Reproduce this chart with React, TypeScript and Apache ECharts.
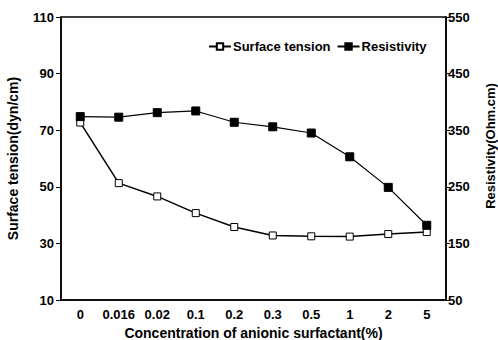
import React, { useEffect, useRef } from "react";
import * as echarts from "echarts";

const categories = ["0", "0.016", "0.02", "0.1", "0.2", "0.3", "0.5", "1", "2", "5"];
const surfaceTension = [72.7, 51.3, 46.6, 40.7, 35.8, 32.8, 32.5, 32.4, 33.3, 34.0];
const resistivity = [374, 373, 381, 384, 364, 356, 345, 303, 249, 182];

const FONT = "'Liberation Sans', Arial, sans-serif";

export default function App() {
  const ref = useRef<HTMLDivElement>(null);
  useEffect(() => {
    if (!ref.current) return;
    const chart = echarts.init(ref.current, undefined, { renderer: "svg" });
    const txt = { color: "#000", fontFamily: FONT, fontSize: 13, fontWeight: "bold" as const };
    chart.setOption({
      animation: false,
      backgroundColor: "#fff",
      textStyle: { fontFamily: FONT, color: "#000" },
      grid: {
        left: 61,
        right: 52,
        top: 17,
        bottom: 40,
        show: true,
        borderColor: "#000",
        borderWidth: 1.5,
        containLabel: false,
        outerBoundsMode: "none",
      },
      legend: {
        left: 203,
        top: 35,
        itemGap: 6,
        itemWidth: 22,
        itemHeight: 8,
        textStyle: { ...txt, padding: [0, 0, 0, -3] },
        data: ["Surface tension", "Resistivity"],
      },
      graphic: [
        {
          type: "text",
          x: 490,
          y: 146,
          rotation: Math.PI / 2,
          style: {
            text: "Resistivity(Ohm.cm)",
            fill: "#000",
            font: `bold 13px ${FONT}`,
            align: "center",
            verticalAlign: "middle",
          },
        },
      ],
      xAxis: {
        type: "category",
        data: categories,
        boundaryGap: true,
        name: "Concentration of anionic surfactant(%)",
        nameLocation: "middle",
        nameGap: 24,
        nameTextStyle: { ...txt, fontSize: 14 },
        axisLine: { lineStyle: { color: "#000", width: 1.5 } },
        axisTick: { alignWithLabel: true, interval: 0, length: 4, lineStyle: { color: "#000" } },
        axisLabel: { ...txt, margin: 8, interval: 0 },
        splitLine: { show: false },
      },
      yAxis: [
        {
          type: "value",
          min: 10,
          max: 110,
          interval: 20,
          name: "Surface tension(dyn/cm)",
          nameLocation: "middle",
          nameGap: 41,
          nameTextStyle: { ...txt, fontSize: 14 },
          axisLine: { show: true, lineStyle: { color: "#000", width: 1.5 } },
          axisTick: { show: true, length: 5, lineStyle: { color: "#000" } },
          axisLabel: { ...txt, margin: 7 },
          splitLine: { show: false },
        },
        {
          type: "value",
          min: 50,
          max: 550,
          interval: 100,
          position: "right",
          axisLine: { show: true, lineStyle: { color: "#000", width: 1.5 } },
          axisTick: { show: true, length: 4, lineStyle: { color: "#000" } },
          axisLabel: { ...txt, margin: 2 },
          splitLine: { show: false },
        },
      ],
      series: [
        {
          name: "Surface tension",
          type: "line",
          yAxisIndex: 0,
          data: surfaceTension,
          symbol: "rect",
          symbolSize: 7,
          showAllSymbol: true,
          lineStyle: { color: "#000", width: 1.5 },
          itemStyle: { color: "#fff", borderColor: "#000", borderWidth: 1 },
        },
        {
          name: "Resistivity",
          type: "line",
          yAxisIndex: 1,
          data: resistivity,
          symbol: "rect",
          symbolSize: 8,
          showAllSymbol: true,
          lineStyle: { color: "#000", width: 1.2 },
          itemStyle: { color: "#000", borderColor: "#000", borderWidth: 1 },
        },
      ],
    });
    return () => chart.dispose();
  }, []);
  return <div ref={ref} style={{ width: 498, height: 340, position: "absolute", left: 0, top: 0 }} />;
}
